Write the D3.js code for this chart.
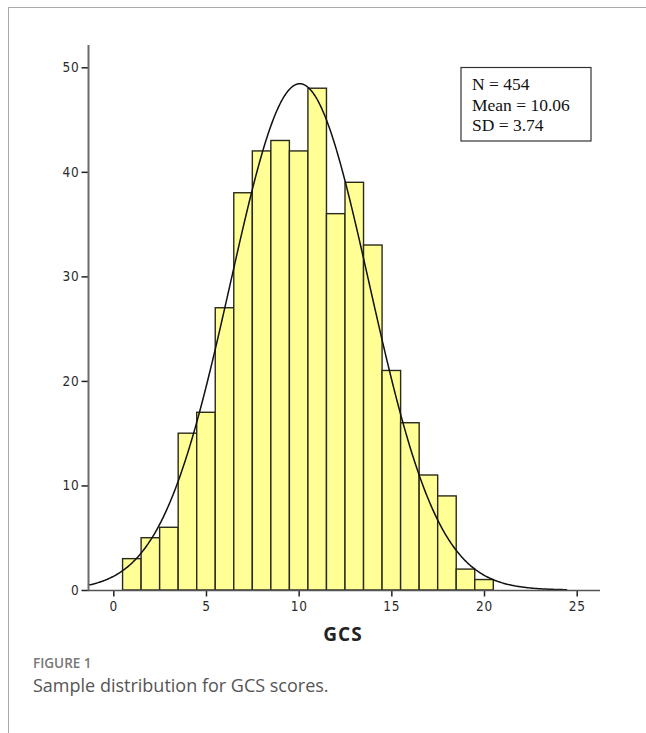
<!DOCTYPE html>
<html><head><meta charset="utf-8">
<script src="https://cdn.jsdelivr.net/npm/d3@7"></script>
<style>body{margin:0;background:#fff;}svg{display:block;}</style>
</head><body>
<svg id="c" width="646" height="733"></svg>
<script>
// Data
const binCenters = [1,2,3,4,5,6,7,8,9,10,11,12,13,14,15,16,17,18,19,20];
const counts     = [3,5,6,15,17,27,38,42,43,42,48,36,39,33,21,16,11,9,2,1];
const xTicks = [0,5,10,15,20,25];
const yTicks = [0,10,20,30,40,50];
const statN = 454, statMean = 10.06, statSD = 3.74;
const statLines = ["N = 454","Mean = 10.06","SD = 3.74"];
const xLabel = "GCS";
const captionTitle = "FIGURE 1";
const captionText = "Sample distribution for GCS scores.";

const svg = d3.select("#c");
// frame
svg.append("line").attr("x1",8).attr("x2",646).attr("y1",7.5).attr("y2",7.5).attr("stroke","#aaa").attr("stroke-width",1);
svg.append("line").attr("x1",8.5).attr("x2",8.5).attr("y1",7).attr("y2",733).attr("stroke","#aaa").attr("stroke-width",1);

const x = d3.scaleLinear().domain([0,25]).range([113.3,576.7]);
const y = d3.scaleLinear().domain([0,50]).range([590,67.3]);
const xMin = x.invert(88);

// bars
svg.append("g").selectAll("rect").data(binCenters).join("rect")
  .attr("x",d=>x(d-0.5)).attr("width",d=>x(d+0.5)-x(d-0.5))
  .attr("y",(d,i)=>y(counts[i])).attr("height",(d,i)=>y(0)-y(counts[i]))
  .attr("fill","#ffff96").attr("stroke","#2a2a1a").attr("stroke-width",1.4);

// normal curve from N, mean, SD (bin width 1)
const pdf = v => statN/(statSD*Math.sqrt(2*Math.PI))*Math.exp(-0.5*((v-statMean)/statSD)**2);
const curveX = d3.range(xMin, 24.5, 0.05);
svg.append("path").datum(curveX)
  .attr("d", d3.line().x(d=>x(d)).y(d=>y(pdf(d))).curve(d3.curveBasis))
  .attr("fill","none").attr("stroke","#111").attr("stroke-width",1.5);

// axes
const fontTick = "'DejaVu Sans Condensed', 'DejaVu Sans', sans-serif";
const yAx = svg.append("g").attr("transform","translate(88.5,0)")
  .call(d3.axisLeft(y).tickValues(yTicks).tickSize(7).tickPadding(2).tickFormat(d3.format("d")));
yAx.select(".domain").remove();
svg.append("line").attr("x1",88.5).attr("x2",88.5).attr("y1",45).attr("y2",591).attr("stroke","#6a6a6a").attr("stroke-width",2);
const xAx = svg.append("g").attr("transform","translate(0,590.5)")
  .call(d3.axisBottom(x).tickValues(xTicks).tickSize(6).tickPadding(5).tickFormat(d3.format("d")));
xAx.select(".domain").remove();
svg.append("line").attr("x1",88).attr("x2",600).attr("y1",590.5).attr("y2",590.5).attr("stroke","#555").attr("stroke-width",1.5);
[yAx,xAx].forEach(a=>{
  a.attr("font-size",null);
  a.selectAll(".tick line").attr("stroke","#222").attr("stroke-width",1.5);
  a.selectAll(".tick text").attr("fill","#2a2a2a").attr("font-size",13.5).style("font-family",fontTick).style("font-size","13.5px").style("letter-spacing","0.8px");
});

// stats box
svg.append("rect").attr("x",461).attr("y",67.5).attr("width",130).attr("height",73.5)
  .attr("fill","#fff").attr("stroke","#333").attr("stroke-width",1.2);
svg.append("g").selectAll("text").data(statLines).join("text")
  .attr("x",472).attr("y",(d,i)=>90+i*20.5).text(d=>d)
  .style("font-family","'Liberation Serif', 'Times New Roman', serif").style("font-size","17.5px").attr("fill","#111");

// x label
svg.append("text").attr("x",343).attr("y",641).attr("text-anchor","middle").text(xLabel)
  .style("font-family","'Open Sans', sans-serif").style("font-weight","700").style("font-size","19px").style("letter-spacing","1px").attr("fill","#222");

// caption
svg.append("text").attr("x",33).attr("y",668).text(captionTitle)
  .style("font-family","'Open Sans', sans-serif").style("font-weight","600").style("font-size","13.5px").attr("fill","#777");
svg.append("text").attr("x",33).attr("y",692).text(captionText)
  .style("font-family","'Open Sans', sans-serif").style("font-weight","400").style("font-size","18px").attr("fill","#555");
</script>
</body></html>
